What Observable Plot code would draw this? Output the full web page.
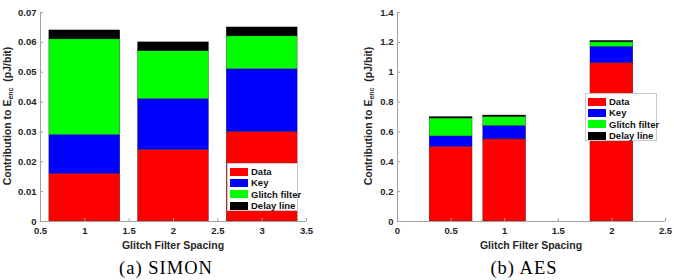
<!DOCTYPE html>
<html><head><meta charset="utf-8">
<script src="https://cdn.jsdelivr.net/npm/d3@7"></script>
<script src="https://cdn.jsdelivr.net/npm/@observablehq/plot@0.6"></script>
<style>
body{margin:0;background:#fff;}
#wrap{position:relative;width:674px;height:280px;overflow:hidden;font-family:"Liberation Sans",Arial,sans-serif;}
.panel{position:absolute;top:0;}
.cap{position:absolute;top:268px;font-family:"Liberation Serif",serif;font-size:18.5px;letter-spacing:1px;transform:translate(-50%,-50%);white-space:nowrap;color:#000;}
.xlab{position:absolute;font-weight:bold;font-size:10.5px;color:#262626;transform:translate(-50%,-50%);white-space:nowrap;}
.ylab{position:absolute;font-weight:bold;font-size:10.5px;color:#262626;transform:translate(-50%,-50%) rotate(-90deg);white-space:nowrap;}
.ylab sub{font-size:7px;vertical-align:-2px;}
.legend{position:absolute;background:#fff;border:1px solid #c8c8c8;box-sizing:border-box;padding:2px 2px 0 2px;}
.legend .row{display:flex;align-items:center;height:11.3px;font-weight:bold;font-size:9.5px;color:#111;white-space:nowrap;}
.legend .sw{width:18px;height:8px;margin-right:3px;flex:none;}
</style>
</head><body>
<div id="wrap"></div>
<script>
// ---- data ----
const seriesNames = ["Data", "Key", "Glitch filter", "Delay line"];
const seriesColors = ["#ff0000", "#0000ff", "#00ff00", "#000000"];

const simonSpacing = [1, 2, 3];
const simonData   = [0.016, 0.024, 0.030];
const simonKey    = [0.013, 0.017, 0.021];
const simonGlitch = [0.032, 0.016, 0.011];
const simonDelay  = [0.003, 0.003, 0.003];
const simonXTicks = [0.5, 1, 1.5, 2, 2.5, 3, 3.5];
const simonYTicks = [0, 0.01, 0.02, 0.03, 0.04, 0.05, 0.06, 0.07];

const aesSpacing = [0.5, 1, 2];
const aesData   = [0.50, 0.55, 1.06];
const aesKey    = [0.07, 0.09, 0.11];
const aesGlitch = [0.12, 0.06, 0.03];
const aesDelay  = [0.01, 0.01, 0.01];
const aesXTicks = [0, 0.5, 1, 1.5, 2, 2.5];
const aesYTicks = [0, 0.2, 0.4, 0.6, 0.8, 1, 1.2, 1.4];

const xTitle = "Glitch Filter Spacing";
const captions = ["(a) SIMON", "(b) AES"];

// ---- build ----
const fmt = d3.format("~g");
function rowsOf(spacing, series) {
  const rows = [];
  spacing.forEach((x, i) => series.forEach((vals, s) => rows.push({x, series: seriesNames[s], value: vals[i]})));
  return rows;
}

function panel(cfg) {
  const rows = rowsOf(cfg.spacing, cfg.series);
  const hw = cfg.barWidth / 2;
  const axisColor = "#a0a0a0";
  return Plot.plot({
    width: 337, height: 250,
    marginLeft: cfg.marginLeft, marginRight: cfg.marginRight, marginTop: 12, marginBottom: 29,
    style: {fontFamily: "'Liberation Sans', Arial, sans-serif", fontSize: "9.5px", fontWeight: "bold", color: "#262626", background: "transparent", overflow: "visible"},
    x: {domain: cfg.xDomain},
    y: {domain: cfg.yDomain},
    color: {domain: seriesNames, range: seriesColors},
    marks: [
      Plot.rectY(rows, {x1: d => d.x - hw, x2: d => d.x + hw, y: "value", fill: "series", stroke: "#222", strokeWidth: 0.35}),
      Plot.ruleX([cfg.xDomain[0]], {stroke: axisColor}),
      Plot.ruleY([cfg.yDomain[0]], {stroke: axisColor}),
      Plot.axisX({ticks: cfg.xTicks, tickFormat: fmt, tickSize: -3, tickPadding: 9, stroke: axisColor, label: null}),
      Plot.axisY({ticks: cfg.yTicks, tickFormat: fmt, tickSize: -3, tickPadding: 7, stroke: axisColor, label: null})
    ]
  });
}

const wrap = document.getElementById("wrap");
const panels = [
  {left: 0, spacing: simonSpacing, series: [simonData, simonKey, simonGlitch, simonDelay], barWidth: 0.8,
   xDomain: [0.5, 3.5], yDomain: [0, 0.07], xTicks: simonXTicks, yTicks: simonYTicks, marginLeft: 40, marginRight: 31,
   ylabX: 7, legend: {left: 227, top: 163, width: 71, height: 48}},
  {left: 337, spacing: aesSpacing, series: [aesData, aesKey, aesGlitch, aesDelay], barWidth: 0.4,
   xDomain: [0, 2.5], yDomain: [0, 1.4], xTicks: aesXTicks, yTicks: aesYTicks, marginLeft: 60, marginRight: 9,
   ylabX: 368, legend: {left: 585, top: 93, width: 72, height: 48}}
];

panels.forEach((cfg, k) => {
  const div = document.createElement("div");
  div.className = "panel";
  div.style.left = cfg.left + "px";
  div.appendChild(panel(cfg));
  wrap.appendChild(div);

  const cx = cfg.left + cfg.marginLeft + (337 - cfg.marginLeft - cfg.marginRight) / 2;
  const xl = document.createElement("div");
  xl.className = "xlab"; xl.textContent = xTitle;
  xl.style.left = cx + "px"; xl.style.top = "245px";
  wrap.appendChild(xl);

  const yl = document.createElement("div");
  yl.className = "ylab";
  yl.innerHTML = "Contribution to E<sub>enc</sub> &nbsp;(pJ/bit)";
  yl.style.left = cfg.ylabX + "px"; yl.style.top = "116px";
  wrap.appendChild(yl);

  const cap = document.createElement("div");
  cap.className = "cap"; cap.textContent = captions[k];
  cap.style.left = (cx - 7) + "px";
  wrap.appendChild(cap);

  const lg = document.createElement("div");
  lg.className = "legend";
  Object.assign(lg.style, {left: cfg.legend.left + "px", top: cfg.legend.top + "px", width: cfg.legend.width + "px", height: cfg.legend.height + "px"});
  seriesNames.forEach((name, i) => {
    const r = document.createElement("div");
    r.className = "row";
    r.innerHTML = `<span class="sw" style="background:${seriesColors[i]}"></span><span>${name}</span>`;
    lg.appendChild(r);
  });
  wrap.appendChild(lg);
});
</script>
</body></html>
